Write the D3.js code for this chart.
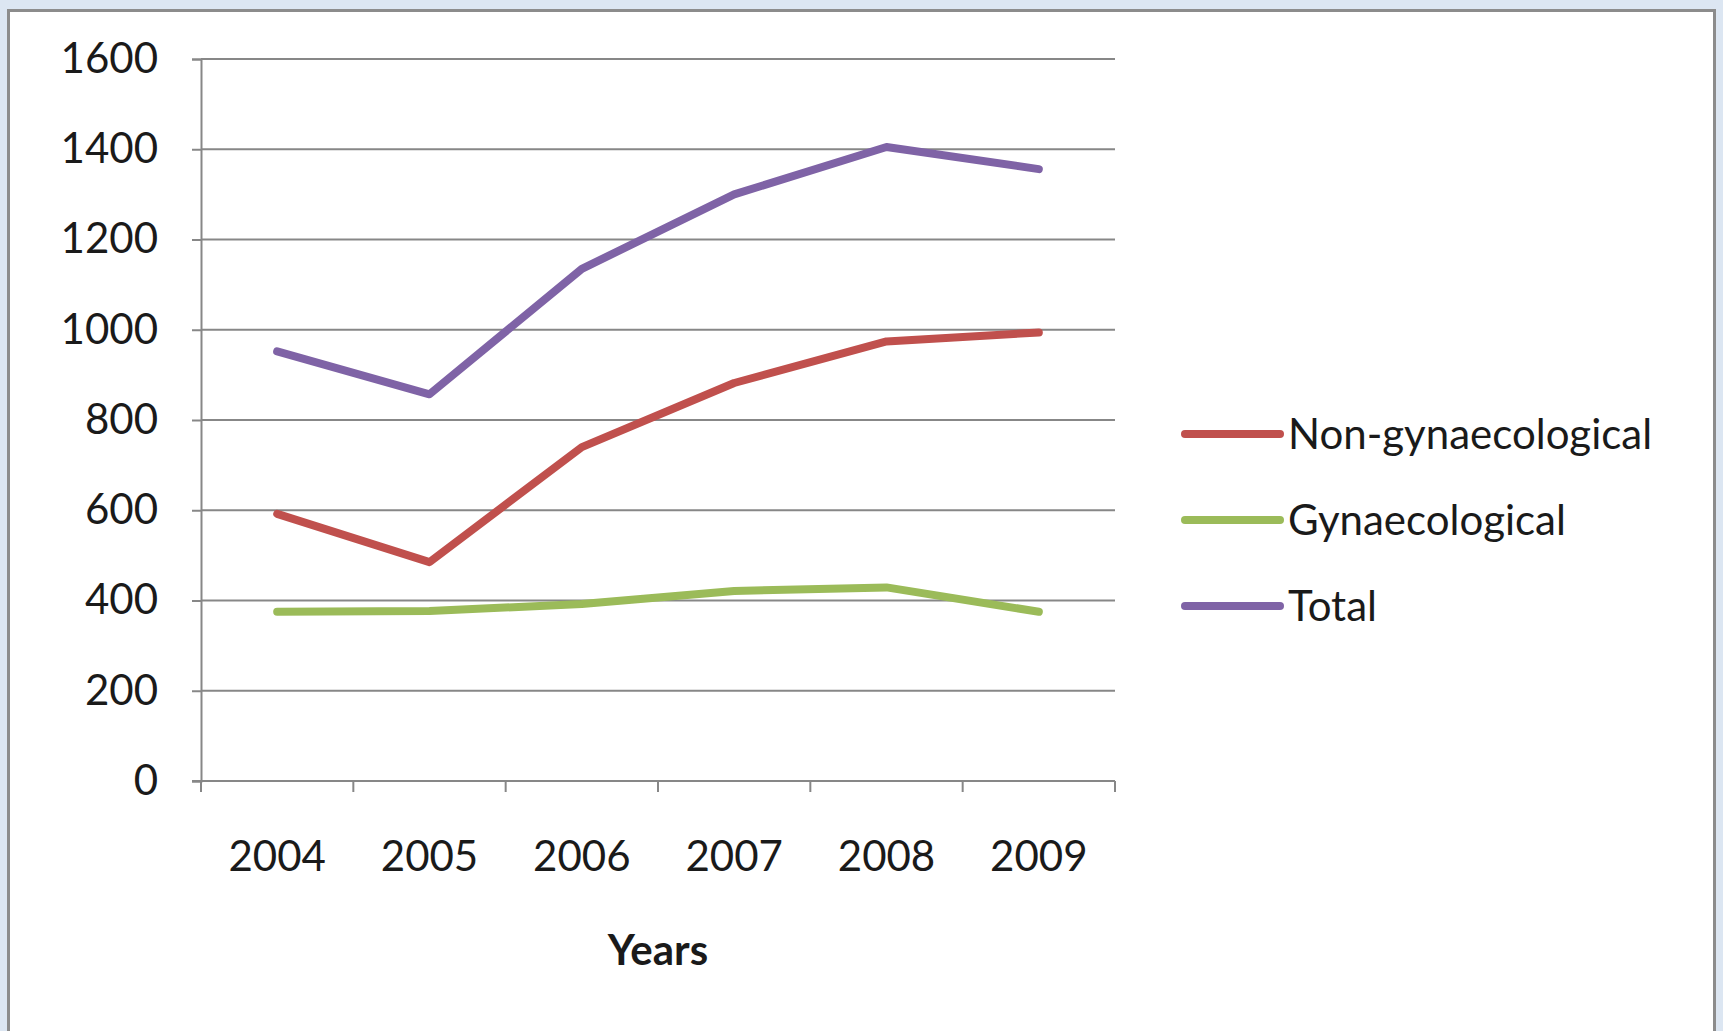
<!DOCTYPE html>
<html>
<head>
<meta charset="utf-8">
<script src="https://cdn.jsdelivr.net/npm/d3@7"></script>
<style>
  html, body { margin: 0; padding: 0; background: #dce6f2; }
  svg { display: block; }
  text { font-family: Lato, "Open Sans", sans-serif; fill: #1a1a1a; }
</style>
</head>
<body>
<svg id="chart" width="1723" height="1031"></svg>
<script>
// Cases per year
const years = ['2004', '2005', '2006', '2007', '2008', '2009'];
const nonGyn = [592, 485, 740, 882, 974, 994];
const gyn = [375, 377, 392, 421, 429, 375];
const total = [952, 857, 1135, 1300, 1405, 1356];
const yTicks = [0, 200, 400, 600, 800, 1000, 1200, 1400, 1600];

const series = [
  { name: 'Non-gynaecological', values: nonGyn, color: '#c0504d' },
  { name: 'Gynaecological', values: gyn, color: '#9bbb59' },
  { name: 'Total', values: total, color: '#7f63a6' }
];

const svg = d3.select('#chart');
const W = 1723, H = 1031;
const margin = { left: 201, right: 608, top: 59, bottom: 250 };
const fontSize = 42;

// frame
svg.append('rect')
  .attr('x', 0).attr('y', 0).attr('width', W).attr('height', H)
  .attr('fill', '#dce6f2');
svg.append('rect')
  .attr('x', 8.5).attr('y', 10.5).attr('width', 1706).attr('height', H + 20)
  .attr('fill', '#fff')
  .attr('stroke', '#8c8c8c')
  .attr('stroke-width', 3);

const x = d3.scaleBand()
  .domain(years)
  .range([margin.left, W - margin.right]);
const y = d3.scaleLinear()
  .domain([0, 1600])
  .range([H - margin.bottom, margin.top]);

const axisColor = '#878787';

// gridlines
svg.append('g')
  .selectAll('line')
  .data(yTicks.filter(d => d > 0))
  .join('line')
  .attr('x1', margin.left).attr('x2', W - margin.right)
  .attr('y1', d => y(d)).attr('y2', d => y(d))
  .attr('stroke', axisColor)
  .attr('stroke-width', 2);

// y axis
const yAxis = svg.append('g')
  .attr('transform', `translate(${margin.left},0)`)
  .call(d3.axisLeft(y).tickValues(yTicks).tickFormat(d3.format('d')).tickSize(9).tickPadding(34));
yAxis.select('.domain').attr('stroke', axisColor).attr('stroke-width', 2);
yAxis.selectAll('.tick line').attr('stroke', axisColor).attr('stroke-width', 2);
yAxis.selectAll('text')
  .attr('font-size', fontSize)
  .attr('font-family', 'Lato, sans-serif')
  .attr('fill', '#1a1a1a');

// x axis: ticks on band edges like Excel
const xAxisG = svg.append('g')
  .attr('transform', `translate(0,${y(0)})`);
xAxisG.append('line')
  .attr('x1', margin.left - 9).attr('x2', W - margin.right)
  .attr('stroke', axisColor).attr('stroke-width', 2);
const edges = years.map(d => x(d)).concat([x(years[years.length - 1]) + x.bandwidth()]);
xAxisG.selectAll('line.edge')
  .data(edges)
  .join('line')
  .attr('class', 'edge')
  .attr('x1', d => d).attr('x2', d => d)
  .attr('y1', 0).attr('y2', 11)
  .attr('stroke', axisColor).attr('stroke-width', 2);
xAxisG.selectAll('text')
  .data(years)
  .join('text')
  .attr('x', d => x(d) + x.bandwidth() / 2)
  .attr('y', 90)
  .attr('text-anchor', 'middle')
  .attr('font-size', fontSize)
  .text(d => d);

// axis title
svg.append('text')
  .attr('x', (margin.left + W - margin.right) / 2)
  .attr('y', 965)
  .attr('text-anchor', 'middle')
  .attr('font-size', fontSize)
  .attr('font-weight', 'bold')
  .text('Years');

// lines
const line = d3.line()
  .x((d, i) => x(years[i]) + x.bandwidth() / 2)
  .y(d => y(d));

svg.append('g')
  .selectAll('path')
  .data(series.slice().reverse())
  .join('path')
  .attr('d', d => line(d.values))
  .attr('fill', 'none')
  .attr('stroke', d => d.color)
  .attr('stroke-width', 8)
  .attr('stroke-linejoin', 'round')
  .attr('stroke-linecap', 'round');

// legend
const legend = svg.append('g')
  .selectAll('g')
  .data(series)
  .join('g')
  .attr('transform', (d, i) => `translate(1185,${434 + i * 86})`);
legend.append('line')
  .attr('x1', 0).attr('x2', 95)
  .attr('stroke', d => d.color)
  .attr('stroke-width', 8)
  .attr('stroke-linecap', 'round');
legend.append('text')
  .attr('x', 103)
  .attr('dy', '0.35em')
  .attr('font-size', fontSize)
  .text(d => d.name);
</script>
</body>
</html>
